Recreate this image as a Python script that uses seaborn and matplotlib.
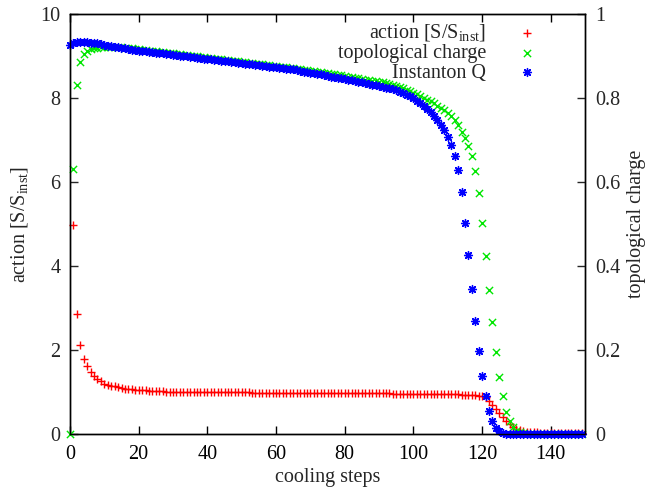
import matplotlib
matplotlib.use("Agg")
import matplotlib.pyplot as plt
import numpy as np
import pandas as pd
import seaborn as sns

# Cooling history of a single instanton configuration
action_steps = list(range(1, 150))
action = [
    4.97, 2.86, 2.12, 1.78, 1.61, 1.48, 1.38, 1.30, 1.25, 1.20,
    1.17, 1.15, 1.13, 1.11, 1.095, 1.08, 1.07, 1.06, 1.05, 1.045,
    1.04, 1.035, 1.03, 1.025, 1.02, 1.015, 1.012, 1.01, 1.007, 1.005,
    1.003, 1.001, 1.000, 0.999, 0.998, 0.997, 0.996, 0.995, 0.994, 0.993,
    0.992, 0.992, 0.991, 0.991, 0.990, 0.990, 0.989, 0.989, 0.988, 0.988,
    0.987, 0.987, 0.986, 0.986, 0.985, 0.985, 0.984, 0.984, 0.983, 0.983,
    0.982, 0.982, 0.981, 0.981, 0.980, 0.980, 0.979, 0.979, 0.978, 0.978,
    0.977, 0.977, 0.976, 0.976, 0.975, 0.975, 0.974, 0.974, 0.973, 0.973,
    0.972, 0.972, 0.971, 0.970, 0.970, 0.969, 0.968, 0.968, 0.967, 0.966,
    0.965, 0.965, 0.964, 0.963, 0.962, 0.961, 0.960, 0.959, 0.958, 0.957,
    0.956, 0.955, 0.954, 0.953, 0.952, 0.951, 0.950, 0.949, 0.947, 0.946,
    0.944, 0.942, 0.940, 0.937, 0.934, 0.930, 0.925, 0.918, 0.908, 0.893,
    0.870, 0.780, 0.680, 0.590, 0.500, 0.410, 0.320, 0.240, 0.170, 0.120,
    0.090, 0.070, 0.055, 0.045, 0.040, 0.035, 0.032, 0.030, 0.028, 0.026,
    0.025, 0.024, 0.023, 0.022, 0.021, 0.020, 0.020, 0.019, 0.019,
]

charge_steps = list(range(0, 150))
topological_charge = [
    0.000, 0.630, 0.831, 0.886, 0.904, 0.912, 0.916, 0.918, 0.920, 0.921,
    0.922, 0.922, 0.922, 0.922, 0.921, 0.921, 0.920, 0.919, 0.918, 0.917,
    0.916, 0.915, 0.914, 0.913, 0.912, 0.911, 0.910, 0.909, 0.908, 0.907,
    0.906, 0.905, 0.904, 0.903, 0.902, 0.901, 0.900, 0.899, 0.898, 0.897,
    0.896, 0.895, 0.894, 0.893, 0.892, 0.891, 0.890, 0.889, 0.888, 0.887,
    0.886, 0.885, 0.884, 0.883, 0.882, 0.881, 0.880, 0.879, 0.878, 0.877,
    0.876, 0.875, 0.874, 0.873, 0.872, 0.871, 0.870, 0.869, 0.867, 0.866,
    0.865, 0.864, 0.862, 0.861, 0.860, 0.859, 0.857, 0.856, 0.855, 0.854,
    0.852, 0.851, 0.850, 0.848, 0.847, 0.846, 0.844, 0.843, 0.841, 0.840,
    0.838, 0.837, 0.835, 0.833, 0.831, 0.829, 0.826, 0.823, 0.820, 0.817,
    0.813, 0.809, 0.805, 0.800, 0.796, 0.792, 0.787, 0.782, 0.777, 0.771,
    0.764, 0.756, 0.748, 0.736, 0.720, 0.704, 0.686, 0.661, 0.627, 0.574,
    0.502, 0.424, 0.342, 0.266, 0.196, 0.136, 0.090, 0.053, 0.030, 0.016,
    0.008, 0.004, 0.002, 0.001, 0.000, 0.000, 0.000, 0.000, 0.000, 0.000,
    0.000, 0.000, 0.000, 0.000, 0.000, 0.000, 0.000, 0.000, 0.000, 0.000,
]

instanton_q = [
    0.926, 0.930, 0.933, 0.934, 0.934, 0.933, 0.932, 0.931, 0.930, 0.928,
    0.927, 0.925, 0.924, 0.922, 0.921, 0.919, 0.918, 0.916, 0.915, 0.914,
    0.913, 0.912, 0.911, 0.910, 0.909, 0.908, 0.907, 0.906, 0.905, 0.904,
    0.903, 0.902, 0.901, 0.900, 0.899, 0.898, 0.897, 0.896, 0.895, 0.894,
    0.893, 0.892, 0.891, 0.890, 0.889, 0.888, 0.887, 0.886, 0.885, 0.884,
    0.883, 0.882, 0.881, 0.880, 0.879, 0.878, 0.877, 0.876, 0.875, 0.874,
    0.873, 0.872, 0.871, 0.870, 0.869, 0.868, 0.866, 0.865, 0.863, 0.862,
    0.860, 0.859, 0.857, 0.856, 0.854, 0.853, 0.851, 0.850, 0.848, 0.847,
    0.845, 0.843, 0.842, 0.840, 0.838, 0.837, 0.835, 0.833, 0.832, 0.830,
    0.828, 0.826, 0.825, 0.823, 0.821, 0.818, 0.815, 0.812, 0.808, 0.804,
    0.799, 0.794, 0.788, 0.781, 0.774, 0.766, 0.757, 0.747, 0.736, 0.723,
    0.708, 0.689, 0.662, 0.628, 0.575, 0.502, 0.426, 0.345, 0.268, 0.197,
    0.137, 0.090, 0.054, 0.030, 0.015, 0.007, 0.003, 0.001, 0.000, 0.000,
    0.000, 0.000, 0.000, 0.000, 0.000, 0.000, 0.000, 0.000, 0.000, 0.000,
    0.000, 0.000, 0.000, 0.000, 0.000, 0.000, 0.000, 0.000, 0.000, 0.000,
]

x_ticks = [0, 20, 40, 60, 80, 100, 120, 140]
y_ticks = [0, 2, 4, 6, 8, 10]
y2_ticks = [0, 0.2, 0.4, 0.6, 0.8, 1]
y2_labels = ["0", "0.2", "0.4", "0.6", "0.8", "1"]

label_action = r"action [S/S$_{\mathrm{inst}}$]"
label_charge = "topological charge"
label_inst = "Instanton Q"

sns.set_style("ticks")
plt.rcParams["font.family"] = ["Liberation Serif", "DejaVu Serif"]
plt.rcParams["mathtext.fontset"] = "custom"
plt.rcParams["mathtext.rm"] = "Liberation Serif"
plt.rcParams["mathtext.it"] = "Liberation Serif:italic"
plt.rcParams["font.size"] = 14.5

fig = plt.figure(figsize=(6.48, 4.92), dpi=100)
ax = fig.add_axes([0.108, 0.118, 0.795, 0.8535])
ax2 = ax.twinx()

df_action = pd.DataFrame({"step": action_steps, "value": action})
df_charge = pd.DataFrame({"step": charge_steps, "charge": topological_charge,
                          "inst": instanton_q})

sns.scatterplot(data=df_action, x="step", y="value", ax=ax, marker="+",
                color="#ff0000", s=34, linewidth=1.0, label=label_action,
                legend=False)
sns.scatterplot(data=df_charge, x="step", y="charge", ax=ax2, marker="x",
                color="#00e600", s=27, linewidth=1.0, label=label_charge,
                legend=False)
sns.scatterplot(data=df_charge, x="step", y="inst", ax=ax2, marker=(8, 2, 0),
                color="#0000ff", s=32, linewidth=1.0, label=label_inst,
                legend=False)

for a in (ax, ax2):
    for c in a.collections:
        c.set_clip_on(False)

ax.set_xlim(0, 150)
ax.set_ylim(0, 10)
ax2.set_ylim(0, 1)
ax.set_xticks(x_ticks)
ax.set_yticks(y_ticks)
ax2.set_yticks(y2_ticks)
ax2.set_yticklabels(y2_labels)

ax.set_xlabel("cooling steps", labelpad=3)
ax.set_ylabel(label_action, labelpad=7)
ax2.set_ylabel(label_charge, labelpad=5)

ax.tick_params(axis="x", direction="in", length=6, width=1, top=True,
               pad=8, colors="black")
ax.tick_params(axis="y", direction="in", length=6, width=1, right=False,
               pad=7)
ax2.tick_params(axis="y", direction="in", length=6, width=1, left=False,
                pad=7)
for a in (ax, ax2):
    for sp in a.spines.values():
        sp.set_visible(True)
        sp.set_linewidth(1.0)
        sp.set_color("black")
    a.grid(False)

h1, l1 = ax.get_legend_handles_labels()
h2, l2 = ax2.get_legend_handles_labels()
leg = ax2.legend(h1 + h2, l1 + l2, loc="upper right",
                 bbox_to_anchor=(0.923, 1.009), frameon=False,
                 markerfirst=False, handlelength=0.6, handletextpad=1.75,
                 labelspacing=0.03, borderaxespad=0.2, scatterpoints=1)

fig.savefig("out.png", dpi=100)
